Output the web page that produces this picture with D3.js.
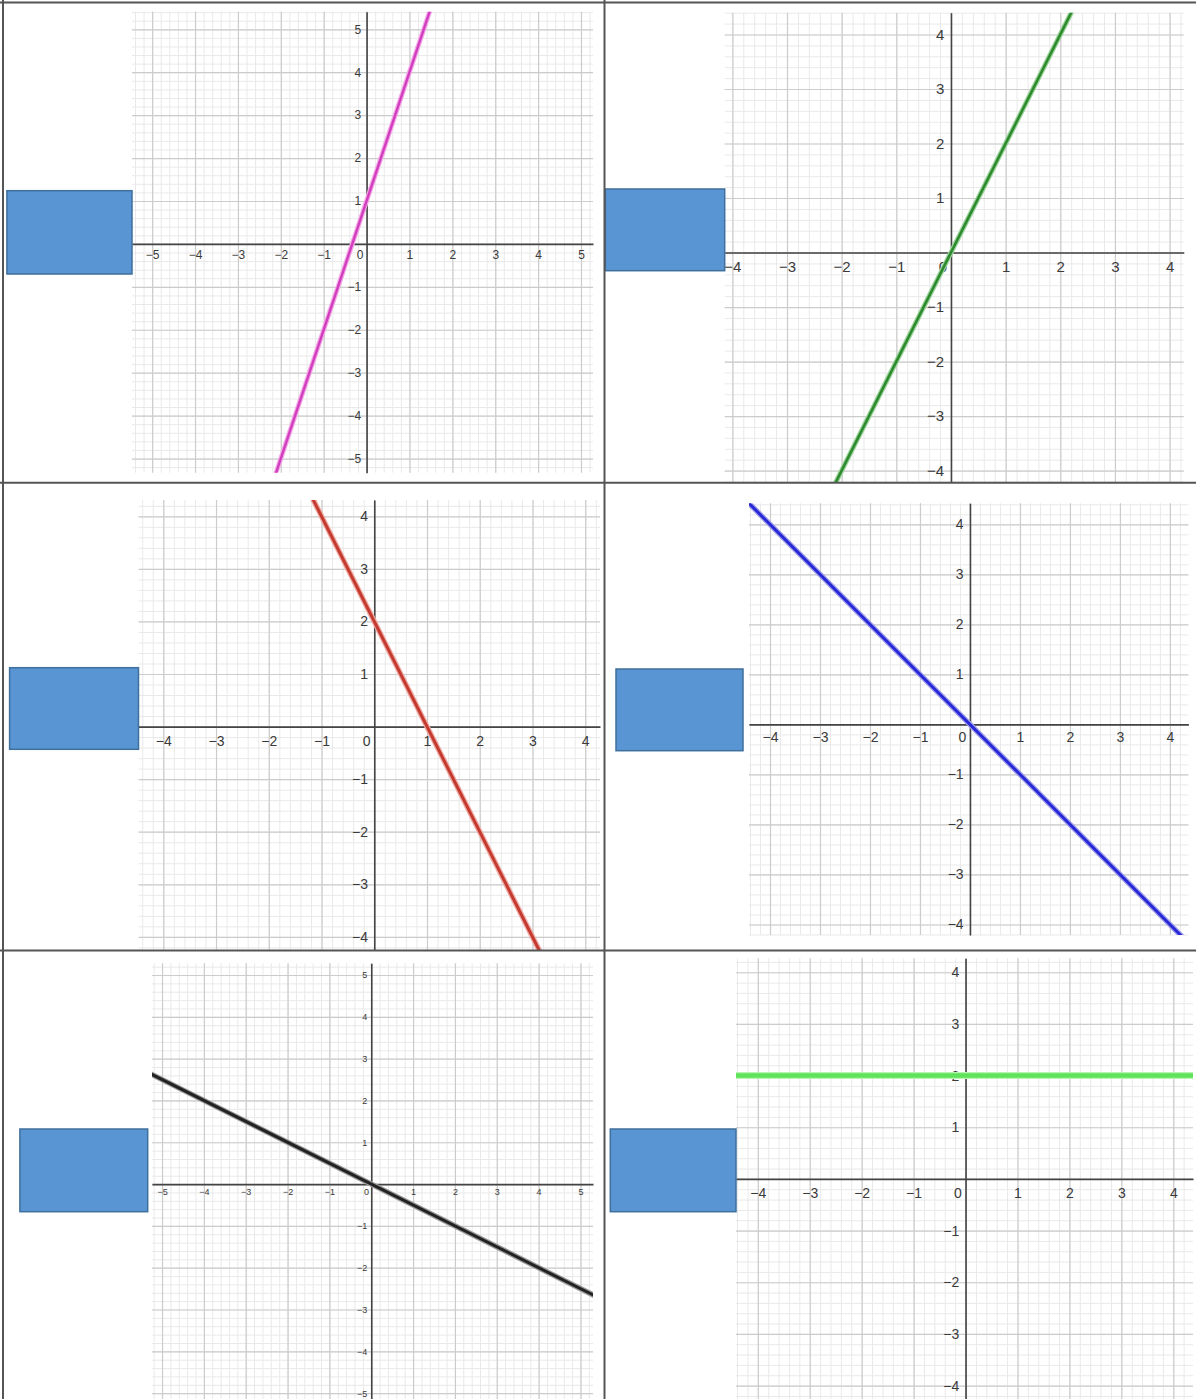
<html>
<head>
  <title>Six linear graphs</title>
  <script src="https://cdn.jsdelivr.net/npm/d3@7"></script>
  <style>
    body { margin: 0; background: #fff; }
    text { font-family: "Liberation Sans", Arial, sans-serif; }
  </style>
</head>
<body>
  <div id="chart"></div>
  <script>
    // visible window of each graph
    const xDomains = [[-5.47, 5.28], [-4.14, 4.26], [-4.47, 4.28], [-4.42, 4.37], [-5.24, 5.30], [-4.42, 4.38]];
    const yDomains = [[-5.33, 5.41], [-4.21, 4.40], [-4.25, 4.31], [-4.21, 4.42], [-5.14, 5.28], [-4.26, 4.27]];

    // tick labels
    const xTicks = [
      [-5, -4, -3, -2, -1, 0, 1, 2, 3, 4, 5],
      [-4, -3, -2, -1, 0, 1, 2, 3, 4],
      [-4, -3, -2, -1, 0, 1, 2, 3, 4],
      [-4, -3, -2, -1, 0, 1, 2, 3, 4],
      [-5, -4, -3, -2, -1, 0, 1, 2, 3, 4, 5],
      [-4, -3, -2, -1, 0, 1, 2, 3, 4]
    ];
    const yTicks = [
      [-5, -4, -3, -2, -1, 1, 2, 3, 4, 5],
      [-4, -3, -2, -1, 1, 2, 3, 4],
      [-4, -3, -2, -1, 1, 2, 3, 4],
      [-4, -3, -2, -1, 1, 2, 3, 4],
      [-5, -4, -3, -2, -1, 1, 2, 3, 4, 5],
      [-4, -3, -2, -1, 1, 2, 3, 4]
    ];

    // two points on each plotted line (clipped to the window)
    const linePoints = [
      [[-2.2, -5.6], [1.6, 5.8]],   // y = 3x + 1
      [[-2.2, -4.4], [2.3, 4.6]],   // y = 2x
      [[-1.3, 4.6], [3.2, -4.4]],   // y = -2x + 2
      [[-4.5, 4.5], [4.5, -4.5]],   // y = -x
      [[-5.4, 2.7], [5.4, -2.7]],   // y = -x/2
      [[-4.5, 2], [4.5, 2]]         // y = 2
    ];

    // layout (pixels)
    const plotBoxes = [
      { left: 132, right: 593, top: 11.7, bottom: 472.7, font: 12, pad: 7 },
      { left: 724.7, right: 1183.8, top: 12.7, bottom: 482, font: 15, pad: 9 },
      { left: 138.5, right: 600, top: 500, bottom: 950, font: 14, pad: 9 },
      { left: 749, right: 1188.4, top: 503.3, bottom: 935, font: 14, pad: 8 },
      { left: 152, right: 593, top: 963.3, bottom: 1399, font: 9, pad: 5 },
      { left: 736, right: 1193, top: 958.3, bottom: 1399, font: 14, pad: 9 }
    ];
    const keyBoxes = [
      [6.9, 190.7, 132, 274], [605.3, 189, 724.7, 270.7],
      [9.6, 667.7, 138.5, 749.3], [616, 669, 743, 750.7],
      [19.9, 1129, 147.7, 1211.7], [610.3, 1129, 736, 1211.7]
    ];
    const lineStyles = [
      { core: "#d23cbf", halo: "#f2a8e6", w: 2.4 },
      { core: "#2f8a2f", halo: "#9ad49a", w: 2.6 },
      { core: "#c23a30", halo: "#f0a8a0", w: 3 },
      { core: "#2a2ad4", halo: "#a0a0f0", w: 3 },
      { core: "#222222", halo: "#9a9a9a", w: 3 },
      { core: "#5fe35a", halo: "#b8f4b0", w: 4.5 }
    ];

    const W = 1196, H = 1399;
    const fmt = d => (d < 0 ? "\u2212" + Math.abs(d) : "" + d);

    const svg = d3.select("#chart").append("svg")
      .attr("width", W).attr("height", H);

    svg.append("rect").attr("width", W).attr("height", H).attr("fill", "#fff");

    plotBoxes.forEach((b, i) => {
      const x = d3.scaleLinear().domain(xDomains[i]).range([b.left, b.right]);
      const y = d3.scaleLinear().domain(yDomains[i]).range([b.bottom, b.top]);
      const g = svg.append("g");

      g.append("clipPath").attr("id", "clip" + i)
        .append("rect")
        .attr("x", b.left).attr("y", b.top)
        .attr("width", b.right - b.left).attr("height", b.bottom - b.top);

      // minor grid, 5 per unit
      const minorX = d3.range(Math.ceil(xDomains[i][0] * 5), Math.floor(xDomains[i][1] * 5) + 1).map(k => k / 5);
      const minorY = d3.range(Math.ceil(yDomains[i][0] * 5), Math.floor(yDomains[i][1] * 5) + 1).map(k => k / 5);

      const grid = (axis, vals, len, tr, color, width) => {
        const a = g.append("g").attr("transform", tr)
          .call(axis.tickValues(vals).tickSize(len).tickFormat(""));
        a.select(".domain").remove();
        a.selectAll("line").attr("stroke", color).attr("stroke-width", width);
      };
      grid(d3.axisBottom(x), minorX, b.bottom - b.top, `translate(0,${b.top})`, "#e9e9e9", 1);
      grid(d3.axisRight(y), minorY, b.right - b.left, `translate(${b.left},0)`, "#e9e9e9", 1);
      const majX = d3.range(Math.ceil(xDomains[i][0]), Math.floor(xDomains[i][1]) + 1);
      const majY = d3.range(Math.ceil(yDomains[i][0]), Math.floor(yDomains[i][1]) + 1);
      grid(d3.axisBottom(x), majX, b.bottom - b.top, `translate(0,${b.top})`, "#cccccc", 1.2);
      grid(d3.axisRight(y), majY, b.right - b.left, `translate(${b.left},0)`, "#cccccc", 1.2);

      // x axis with labels
      const xa = g.append("g").attr("transform", `translate(0,${y(0)})`)
        .call(d3.axisBottom(x).tickValues(xTicks[i]).tickSize(0).tickSizeOuter(0)
          .tickPadding(b.pad).tickFormat(fmt));
      xa.select(".domain").attr("stroke", "#444").attr("stroke-width", 1.6);
      xa.selectAll("text").attr("fill", "#3a3a3a").style("font-size", b.font + "px");
      xa.selectAll(".tick").filter(d => d === 0).select("text")
        .attr("text-anchor", "end").attr("dx", -(b.font * 0.3));

      // y axis with labels
      const ya = g.append("g").attr("transform", `translate(${x(0)},0)`)
        .call(d3.axisLeft(y).tickValues(yTicks[i]).tickSize(0).tickSizeOuter(0)
          .tickPadding(b.font * 0.45).tickFormat(fmt));
      ya.select(".domain").attr("stroke", "#444").attr("stroke-width", 1.6);
      ya.selectAll("text").attr("fill", "#3a3a3a").style("font-size", b.font + "px");

      // the plotted line
      const line = d3.line().x(d => x(d[0])).y(d => y(d[1]));
      const st = lineStyles[i];
      const lg = g.append("g").attr("clip-path", `url(#clip${i})`);
      lg.append("path").datum(linePoints[i]).attr("d", line)
        .attr("fill", "none").attr("stroke", st.halo).attr("stroke-width", st.w + 2.5);
      lg.append("path").datum(linePoints[i]).attr("d", line)
        .attr("fill", "none").attr("stroke", st.core).attr("stroke-width", st.w);
    });

    // blue answer boxes
    svg.selectAll("rect.key").data(keyBoxes).enter().append("rect")
      .attr("class", "key")
      .attr("x", d => d[0]).attr("y", d => d[1])
      .attr("width", d => d[2] - d[0]).attr("height", d => d[3] - d[1])
      .attr("fill", "#5895d2").attr("stroke", "#3f6f9c").attr("stroke-width", 1.5);

    // table rules
    const rules = [[0, 2.5, W, 2.5], [3, 0, 3, H], [604.5, 0, 604.5, H], [0, 482.7, W, 482.7], [0, 950.5, W, 950.5]];
    svg.selectAll("line.rule").data(rules).enter().append("line")
      .attr("class", "rule")
      .attr("x1", d => d[0]).attr("y1", d => d[1]).attr("x2", d => d[2]).attr("y2", d => d[3])
      .attr("stroke", "#555").attr("stroke-width", 2);
  </script>
</body>
</html>
